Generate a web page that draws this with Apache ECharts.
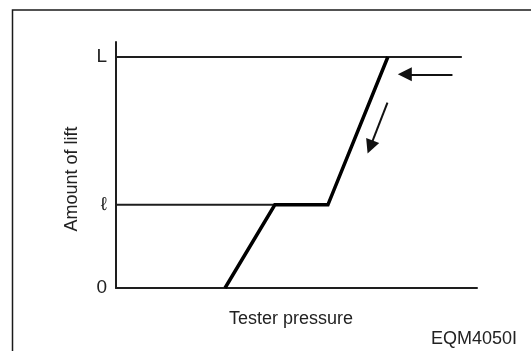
<!DOCTYPE html>
<html>
<head>
<meta charset="utf-8">
<script src="https://cdn.jsdelivr.net/npm/echarts@6/dist/echarts.min.js"></script>
<style>
  html, body { margin: 0; padding: 0; background: #fff; }
  #chart { width: 531px; height: 351px; }
</style>
</head>
<body>
<div id="chart"></div>
<script>
// Lift levels on the vertical axis (arbitrary units) and their tick labels
const liftLevels = [0, 3.6, 10];
const liftLabels = ['0', 'ℓ', 'L'];

// Lift curve against tester pressure: rise, plateau at ℓ, rise to L
const pressure = [30.2, 44.0, 58.7, 75.3];
const lift = [0, 3.6, 3.6, 10];

// Reference levels drawn as horizontal guides (end points in pressure)
const guideL = [[0, 10], [95.8, 10]];
const guideSmall = [[0, 3.6], [44.0, 3.6]];

// Direction arrows: [start, end] in pressure / lift units
const arrows = [
  [[93.2, 9.25], [80.0, 9.25]],
  [[75.2, 8.03], [70.4, 6.10]]
];

const font = '"Liberation Sans", Arial, sans-serif';
const ink = '#1e1e1e';

const chart = echarts.init(document.getElementById('chart'), null, { renderer: 'canvas' });

chart.setOption({
  backgroundColor: '#ffffff',
  animation: false,
  grid: { left: 116, right: 54, top: 42, bottom: 63 },
  xAxis: {
    type: 'value',
    min: 0,
    max: 100,
    name: 'Tester pressure',
    nameLocation: 'middle',
    nameGap: 22,
    nameTextStyle: { fontFamily: font, fontSize: 18, color: '#222', verticalAlign: 'top', padding: [0, 11, 0, 0] },
    axisLine: { show: true, lineStyle: { color: ink, width: 2 } },
    axisTick: { show: false },
    axisLabel: { show: false },
    splitLine: { show: false }
  },
  yAxis: {
    type: 'value',
    min: 0,
    max: 10.65,
    name: 'Amount of lift',
    nameLocation: 'middle',
    nameRotate: 90,
    nameGap: 35,
    nameTextStyle: { fontFamily: font, fontSize: 18, color: '#222', padding: [0, 28, 0, 0], align: 'center' },
    axisLine: { show: true, lineStyle: { color: ink, width: 2 } },
    axisTick: { show: false },
    splitLine: { show: false },
    axisLabel: {
      customValues: liftLevels,
      margin: 9,
      fontFamily: font,
      fontSize: 19,
      color: '#222',
      formatter: function (v) {
        const i = liftLevels.indexOf(v);
        return i >= 0 ? liftLabels[i] : '';
      }
    }
  },
  series: [
    {
      type: 'line',
      data: guideL,
      symbol: 'none',
      lineStyle: { color: ink, width: 2 },
      silent: true
    },
    {
      type: 'line',
      data: guideSmall,
      symbol: 'none',
      lineStyle: { color: ink, width: 2 },
      silent: true
    },
    {
      type: 'line',
      data: pressure.map((p, i) => [p, lift[i]]),
      symbol: 'none',
      lineStyle: { color: '#000', width: 3.5, join: 'miter' },
      silent: true
    },
    {
      type: 'lines',
      coordinateSystem: 'cartesian2d',
      symbol: ['none', 'triangle'],
      symbolSize: [8, 14],
      lineStyle: { color: '#111', width: 2, opacity: 1 },
      data: arrows.map(a => ({ coords: a })),
      silent: true
    }
  ],
  graphic: [
    {
      type: 'rect',
      shape: { x: 12.5, y: 10, width: 560, height: 380 },
      style: { fill: 'none', stroke: '#1a1a1a', lineWidth: 1.5 },
      silent: true,
      z: 10
    },
    {
      type: 'text',
      right: 14,
      top: 330,
      style: { text: 'EQM4050I', font: '18px ' + font, fill: '#222' }
    }
  ]
});
</script>
</body>
</html>
